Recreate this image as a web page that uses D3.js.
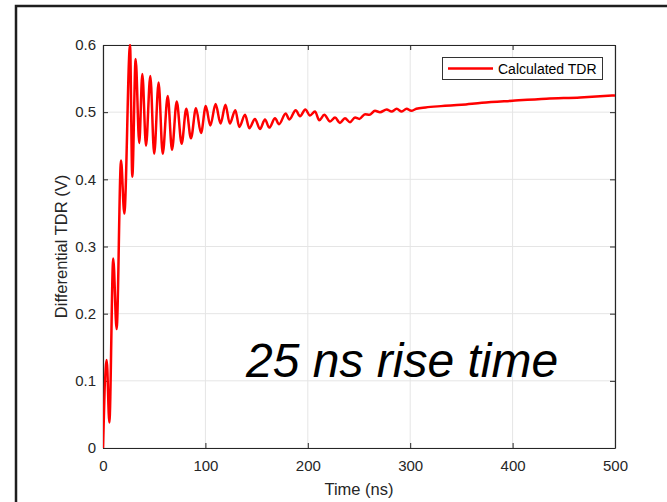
<!DOCTYPE html>
<html>
<head>
<meta charset="utf-8">
<script src="https://cdn.jsdelivr.net/npm/d3@7"></script>
<style>
  html, body { margin: 0; padding: 0; background: #fff; }
  svg { display: block; font-family: "Liberation Sans", Arial, Helvetica, sans-serif; }
</style>
</head>
<body>
<svg id="chart" width="667" height="502"></svg>
<script>
const timeNs = [0, 3.6, 6.2, 10, 13.3, 17.6, 20.8, 26.4, 28.6, 31.9, 35.4, 38.4, 42, 46.2, 50, 54.3, 58.3, 63.2, 67.4, 72, 76.8, 81.3, 85.9, 90.8, 95.7, 100.4, 104.8, 110, 114.8, 119.6, 123.8, 129.2, 133.1, 138.7, 142.9, 148.4, 153.3, 158.2, 162.4, 168, 171.9, 178.4, 182, 188.2, 192.4, 197.6, 202.1, 207, 211.2, 216.1, 221.7, 226.6, 231.4, 236.3, 241.2, 246.1, 250.3, 255.9, 260.1, 265.6, 270.5, 277, 281.8, 286.8, 291.7, 296.5, 301, 306, 315, 330, 350, 370, 400, 433, 466, 500];
const tdrV = [0, 0.131, 0.038, 0.282, 0.177, 0.428, 0.349, 0.6, 0.404, 0.579, 0.454, 0.557, 0.45, 0.554, 0.438, 0.544, 0.438, 0.524, 0.444, 0.516, 0.453, 0.505, 0.461, 0.506, 0.469, 0.509, 0.480, 0.512, 0.483, 0.511, 0.483, 0.503, 0.478, 0.496, 0.476, 0.490, 0.475, 0.489, 0.477, 0.491, 0.482, 0.498, 0.489, 0.503, 0.494, 0.504, 0.495, 0.501, 0.488, 0.496, 0.486, 0.492, 0.484, 0.491, 0.485, 0.492, 0.490, 0.497, 0.496, 0.502, 0.500, 0.504, 0.501, 0.505, 0.501, 0.505, 0.502, 0.505, 0.507, 0.509, 0.511, 0.514, 0.517, 0.520, 0.522, 0.525];
const xTicks = [0, 100, 200, 300, 400, 500];
const yTicks = [0, 0.1, 0.2, 0.3, 0.4, 0.5, 0.6];
const seriesName = "Calculated TDR";
const annotation = "25 ns rise time";
const xLabel = "Time (ns)";
const yLabel = "Differential TDR (V)";

const svg = d3.select("#chart");
const L = 103, R = 615, T = 45, B = 448;
const x = d3.scaleLinear().domain([0, 500]).range([L, R]);
const y = d3.scaleLinear().domain([0, 0.6]).range([B, T]);
const axisColor = "#262626";

// outer figure frame
svg.append("path")
  .attr("d", "M16,502 L16,6 L667,6")
  .attr("fill", "none").attr("stroke", "#1e1e1e").attr("stroke-width", 2.5);

// grid
const grid = svg.append("g");
grid.selectAll(".gx").data(xTicks).enter().append("line")
  .attr("x1", d => x(d)).attr("x2", d => x(d)).attr("y1", T).attr("y2", B)
  .attr("stroke", "#e5e5e5").attr("stroke-width", 1);
grid.selectAll(".gy").data(yTicks).enter().append("line")
  .attr("x1", L).attr("x2", R).attr("y1", d => y(d)).attr("y2", d => y(d))
  .attr("stroke", "#e5e5e5").attr("stroke-width", 1);

// axes
const fmtY = d => d === 0 ? "0" : d3.format(".1f")(d);
const ax = svg.append("g").attr("transform", `translate(0,${B})`)
  .call(d3.axisBottom(x).tickValues(xTicks).tickSizeInner(-5).tickSizeOuter(0).tickPadding(12));
const ay = svg.append("g").attr("transform", `translate(${L},0)`)
  .call(d3.axisLeft(y).tickValues(yTicks).tickFormat(fmtY).tickSizeInner(-5).tickSizeOuter(0).tickPadding(7));
const axT = svg.append("g").attr("transform", `translate(0,${T})`)
  .call(d3.axisTop(x).tickValues(xTicks).tickSizeInner(-5).tickSizeOuter(0).tickFormat(""));
const ayR = svg.append("g").attr("transform", `translate(${R},0)`)
  .call(d3.axisRight(y).tickValues(yTicks).tickSizeInner(-5).tickSizeOuter(0).tickFormat(""));
[ax, ay, axT, ayR].forEach(g => {
  g.select(".domain").attr("stroke", axisColor).attr("stroke-width", 1.2);
  g.selectAll(".tick line").attr("stroke", axisColor).attr("stroke-width", 1);
  g.selectAll(".tick text").attr("fill", axisColor).attr("font-size", 15)
    .attr("font-family", "'Liberation Sans', Arial, sans-serif");
});

// line
svg.append("clipPath").attr("id", "clip").append("rect")
  .attr("x", L).attr("y", T - 1).attr("width", R - L).attr("height", B - T + 2);
const pts = timeNs.map((t, i) => [t, tdrV[i]]);
svg.append("path").datum(pts)
  .attr("clip-path", "url(#clip)")
  .attr("d", d3.line().x(d => x(d[0])).y(d => y(d[1])).curve(d3.curveMonotoneX))
  .attr("fill", "none").attr("stroke", "#ff0000").attr("stroke-width", 2.5)
  .attr("stroke-linejoin", "round");

// axis labels
svg.append("text").attr("x", (L + R) / 2).attr("y", 495).attr("text-anchor", "middle")
  .attr("font-size", 16.5).attr("fill", axisColor).text(xLabel);
svg.append("text").attr("transform", `translate(67,${(T + B) / 2}) rotate(-90)`)
  .attr("text-anchor", "middle").attr("font-size", 16.5).attr("fill", axisColor).text(yLabel);

// annotation
svg.append("text").attr("x", 246).attr("y", 377).attr("font-size", 48)
  .attr("font-style", "italic").attr("fill", "#000").text(annotation);

// legend
const lg = svg.append("g");
lg.append("rect").attr("x", 442.5).attr("y", 57.5).attr("width", 160).attr("height", 22)
  .attr("fill", "#fff").attr("stroke", "#333").attr("stroke-width", 1);
lg.append("line").attr("x1", 448).attr("x2", 493).attr("y1", 68.5).attr("y2", 68.5)
  .attr("stroke", "#ff0000").attr("stroke-width", 2.5);
lg.append("text").attr("x", 498).attr("y", 73.5).attr("font-size", 14).attr("fill", "#000").text(seriesName);
</script>
</body>
</html>
